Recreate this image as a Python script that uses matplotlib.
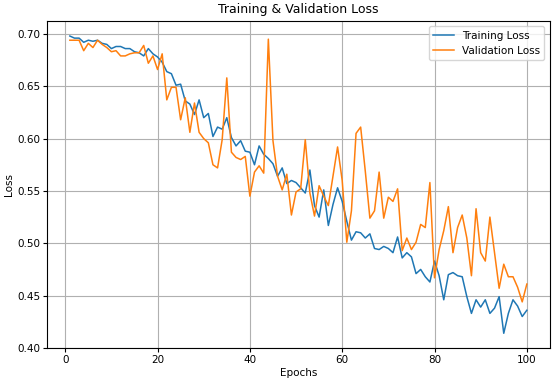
import matplotlib.pyplot as plt
import numpy as np

# Loss values per epoch
epochs = np.arange(1, 101)

train_loss = [
    0.698, 0.696, 0.696, 0.692, 0.694, 0.693, 0.694, 0.691, 0.690, 0.686,
    0.688, 0.688, 0.686, 0.686, 0.683, 0.682, 0.679, 0.686, 0.681, 0.678,
    0.673, 0.664, 0.662, 0.651, 0.652, 0.636, 0.633, 0.623, 0.637, 0.620,
    0.624, 0.602, 0.611, 0.609, 0.620, 0.601, 0.593, 0.598, 0.588, 0.587,
    0.575, 0.593, 0.585, 0.581, 0.576, 0.564, 0.572, 0.557, 0.560, 0.558,
    0.553, 0.548, 0.570, 0.536, 0.525, 0.551, 0.517, 0.537, 0.553, 0.540,
    0.521, 0.503, 0.511, 0.510, 0.505, 0.509, 0.495, 0.494, 0.497, 0.495,
    0.491, 0.506, 0.486, 0.491, 0.487, 0.471, 0.475, 0.468, 0.463, 0.483,
    0.469, 0.446, 0.470, 0.472, 0.469, 0.468, 0.449, 0.433, 0.446, 0.439,
    0.446, 0.433, 0.438, 0.449, 0.414, 0.433, 0.446, 0.440, 0.430, 0.436,
]

val_loss = [
    0.694, 0.694, 0.694, 0.684, 0.691, 0.687, 0.694, 0.690, 0.687, 0.683,
    0.684, 0.679, 0.679, 0.681, 0.682, 0.682, 0.689, 0.672, 0.679, 0.666,
    0.681, 0.637, 0.649, 0.649, 0.618, 0.639, 0.606, 0.634, 0.606, 0.600,
    0.596, 0.575, 0.572, 0.599, 0.658, 0.587, 0.582, 0.580, 0.583, 0.545,
    0.568, 0.574, 0.567, 0.695, 0.598, 0.564, 0.551, 0.566, 0.527, 0.549,
    0.552, 0.599, 0.548, 0.526, 0.555, 0.545, 0.536, 0.564, 0.592, 0.560,
    0.501, 0.531, 0.605, 0.611, 0.569, 0.524, 0.531, 0.568, 0.524, 0.544,
    0.540, 0.552, 0.493, 0.505, 0.494, 0.501, 0.518, 0.515, 0.558, 0.467,
    0.494, 0.512, 0.535, 0.491, 0.515, 0.527, 0.505, 0.469, 0.533, 0.491,
    0.483, 0.525, 0.491, 0.457, 0.480, 0.468, 0.468, 0.458, 0.444, 0.461,
]

fig = plt.figure(figsize=(5.53, 3.78), dpi=100)
ax = fig.add_axes([0.085, 0.079, 0.909, 0.865])

ax.plot(epochs, train_loss, label='Training Loss', linewidth=1.1)
ax.plot(epochs, val_loss, label='Validation Loss', linewidth=1.1)

ax.set_title('Training & Validation Loss', fontsize=9)
ax.set_xlabel('Epochs', fontsize=7.5, labelpad=2)
ax.set_ylabel('Loss', fontsize=7.5, labelpad=2)
ax.tick_params(labelsize=7.5, length=3, pad=2)
ax.grid(True)
ax.legend(loc='upper right', fontsize=7.5)

fig.savefig('out.png', dpi=100)
